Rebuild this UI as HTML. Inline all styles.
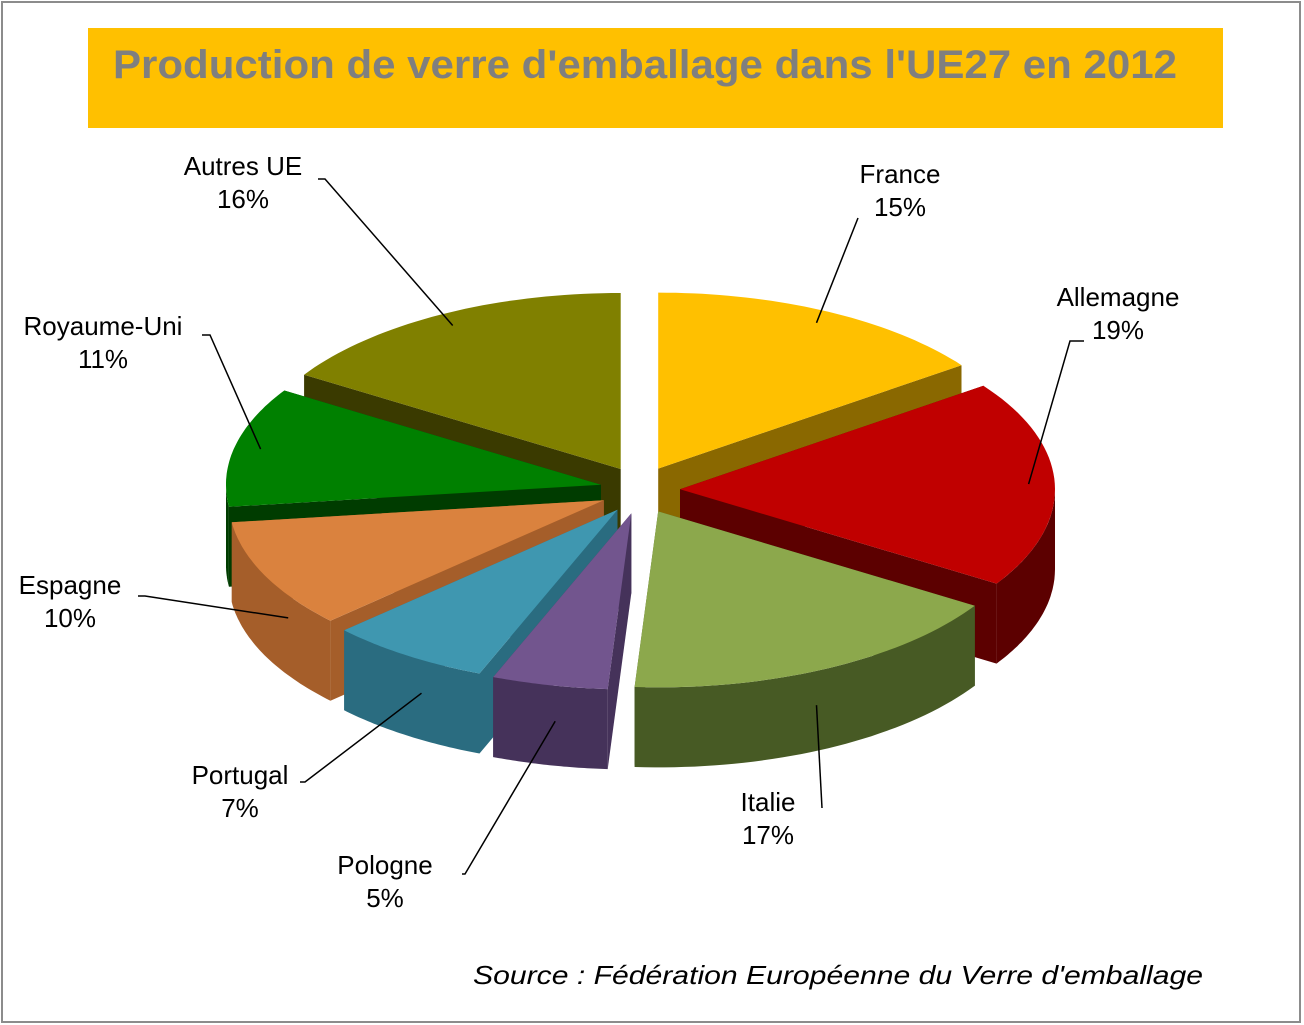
<!DOCTYPE html>
<html><head><meta charset="utf-8"><style>
html,body{margin:0;padding:0;background:#fff}
svg{display:block}
text{font-family:"Liberation Sans",sans-serif}
</style></head><body>
<svg id="chart" width="1304" height="1025" viewBox="0 0 1304 1025" xmlns="http://www.w3.org/2000/svg">
<rect x="2" y="2" width="1298" height="1020" fill="#fff" stroke="#8c8c8c" stroke-width="2"/>
<rect x="88" y="28" width="1135" height="100" fill="#FFC000"/>
<text x="113" y="78" font-size="40" font-weight="bold" fill="#7f7f7f" textLength="1064" lengthAdjust="spacingAndGlyphs">Production de verre d'emballage dans l'UE27 en 2012</text>
<g id="slices"></g>
<g id="labels"></g>
<text x="1203" y="984" text-anchor="end" font-size="26" font-style="italic" fill="#000" textLength="730" lengthAdjust="spacingAndGlyphs">Source :  Fédération  Européenne  du Verre d'emballage</text>
</svg>
<script>
const categories = ["France","Allemagne","Italie","Pologne","Portugal","Espagne","Royaume-Uni","Autres UE"];
const shares = [15,19,17,5,7,10,11,16];
const shareLabels = ["15%","19%","17%","5%","7%","10%","11%","16%"];
const topColors = ["#FFC000","#C00000","#8CA84C","#72558E","#3F97B0","#DA823E","#008000","#808000"];
const sideColors = ["#8A6800","#5C0000","#475A24","#45325A","#2A6C80","#A55E2A","#003C00","#3A3A00"];
const labelPos = [[900,175],[1118,298],[768,803],[385,866],[240,776],[70,586],[103,327],[243,167]];
const lineStart = [[858,218],[1084,341],[822,808],[462,874],[300,782],[138,596],[202,335],[318,179]];
const lineElbow = [[858,218],[1070,341],[822,808],[465,874],[305,782],[145,596],[210,335],[325,179]];

const NS="http://www.w3.org/2000/svg";
const cx=640, cy=490, rx=375, ry=176, depth=80, explode=40;
const total=shares.reduce((a,b)=>a+b,0);
function pt(a,r){return [Math.sin(a)*rx*r, -Math.cos(a)*ry*r];}
const g=document.getElementById('slices'), lg=document.getElementById('labels');
let acc=0; const sl=[];
shares.forEach((v,i)=>{
  const a0=acc/total*2*Math.PI; acc+=v; const a1=acc/total*2*Math.PI;
  const am=(a0+a1)/2;
  const ox=cx+Math.sin(am)*explode, oy=cy-Math.cos(am)*explode*0.6;
  sl.push({i,a0,a1,am,ox,oy});
});
function P(x,y){return x.toFixed(1)+","+y.toFixed(1);}
sl.slice().sort((p,q)=>Math.cos(q.am)-Math.cos(p.am)).forEach(s=>{
  const {i,a0,a1,ox,oy}=s;
  const N=40, arc=[];
  for(let k=0;k<=N;k++){const a=a0+(a1-a0)*k/N; const p=pt(a,1); arc.push([ox+p[0],oy+p[1]]);}
  const nm=categories[i].toLowerCase().replace(/\s+/g,'-');
  [a0,a1].forEach(a=>{
    const p=pt(a,1);
    const w=document.createElementNS(NS,'polygon');
    
    
    w.setAttribute('points',[P(ox,oy),P(ox+p[0],oy+p[1]),P(ox+p[0],oy+p[1]+depth),P(ox,oy+depth)].join(' '));
    w.setAttribute('fill',sideColors[i]);
    g.appendChild(w);
  });
  // outer wall only on front-facing part
  const b0=Math.max(a0,Math.PI/2), b1=Math.min(a1,1.5*Math.PI);
  if(b1>b0){
    const wa=[];
    for(let k=0;k<=N;k++){const a=b0+(b1-b0)*k/N; const p=pt(a,1); wa.push([ox+p[0],oy+p[1]]);}
    const ow=document.createElementNS(NS,'polygon');
    
    
    const pts=wa.map(p=>P(p[0],p[1])).concat(wa.slice().reverse().map(p=>P(p[0],p[1]+depth)));
    ow.setAttribute('points',pts.join(' '));
    ow.setAttribute('fill',sideColors[i]);
    g.appendChild(ow);
  }
  const t=document.createElementNS(NS,'polygon');
  
  
  t.setAttribute('points',[P(ox,oy)].concat(arc.map(p=>P(p[0],p[1]))).join(' '));
  t.setAttribute('fill',topColors[i]);
  g.appendChild(t);
});
sl.forEach(s=>{
  const i=s.i;
  const nm=categories[i].toLowerCase().replace(/\s+/g,'-');
  const p=pt(s.am,1);
  let ex=s.ox+p[0]*0.93, ey=s.oy+p[1]*0.93;
  if(Math.cos(s.am)<0) ey+=depth*0.6;
  const ln=document.createElementNS(NS,'polyline');
  
  
  ln.setAttribute('points',[P(lineStart[i][0],lineStart[i][1]),P(lineElbow[i][0],lineElbow[i][1]),P(ex,ey)].join(' '));
  ln.setAttribute('fill','none'); ln.setAttribute('stroke','#000'); ln.setAttribute('stroke-width','1.5');
  lg.appendChild(ln);
  const tx=document.createElementNS(NS,'text');
  
  
  tx.setAttribute('x',labelPos[i][0]); tx.setAttribute('y',labelPos[i][1]+8);
  tx.setAttribute('text-anchor','middle'); tx.setAttribute('font-size','26'); tx.setAttribute('fill','#000');
  const t1=document.createElementNS(NS,'tspan'); t1.setAttribute('x',labelPos[i][0]); t1.textContent=categories[i];
  const t2=document.createElementNS(NS,'tspan'); t2.setAttribute('x',labelPos[i][0]); t2.setAttribute('dy','33'); t2.textContent=shareLabels[i];
  tx.appendChild(t1); tx.appendChild(t2);
  lg.appendChild(tx);
});
</script>
</body></html>
